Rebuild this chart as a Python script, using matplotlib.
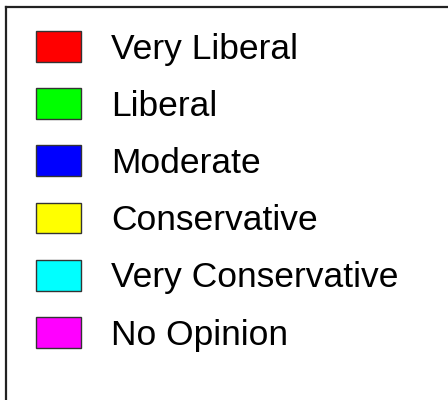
import matplotlib
matplotlib.use("Agg")
import matplotlib.pyplot as plt
from matplotlib.patches import Patch

labels = ["Very Liberal", "Liberal", "Moderate", "Conservative",
          "Very Conservative", "No Opinion"]
colors = ["#ff0000", "#00ff00", "#0000ff", "#ffff00", "#00ffff", "#ff00ff"]

W, H = 448, 400
fig = plt.figure(figsize=(W / 100, H / 100), dpi=100)

# frame: only top and left edges fall inside the picture
ax = fig.add_axes([6 / W, -0.1, 1.2, 1.1 - 7 / H])
ax.set_xticks([])
ax.set_yticks([])
for side in ["right", "bottom"]:
    ax.spines[side].set_visible(False)
for side in ["top", "left"]:
    ax.spines[side].set_linewidth(1.6)
    ax.spines[side].set_color("#222222")

handles = [Patch(facecolor=c, edgecolor="#333333", linewidth=1.0) for c in colors]
fig.legend(handles, labels, loc="upper left",
           bbox_to_anchor=(36 / W, 1 - 31 / H),
           frameon=False, borderpad=0, borderaxespad=0,
           prop={"family": "Liberation Sans", "size": 25.5},
           handlelength=1.27, handleheight=0.96,
           handletextpad=0.85, labelspacing=0.64)

fig.savefig("out.png", dpi=100)
